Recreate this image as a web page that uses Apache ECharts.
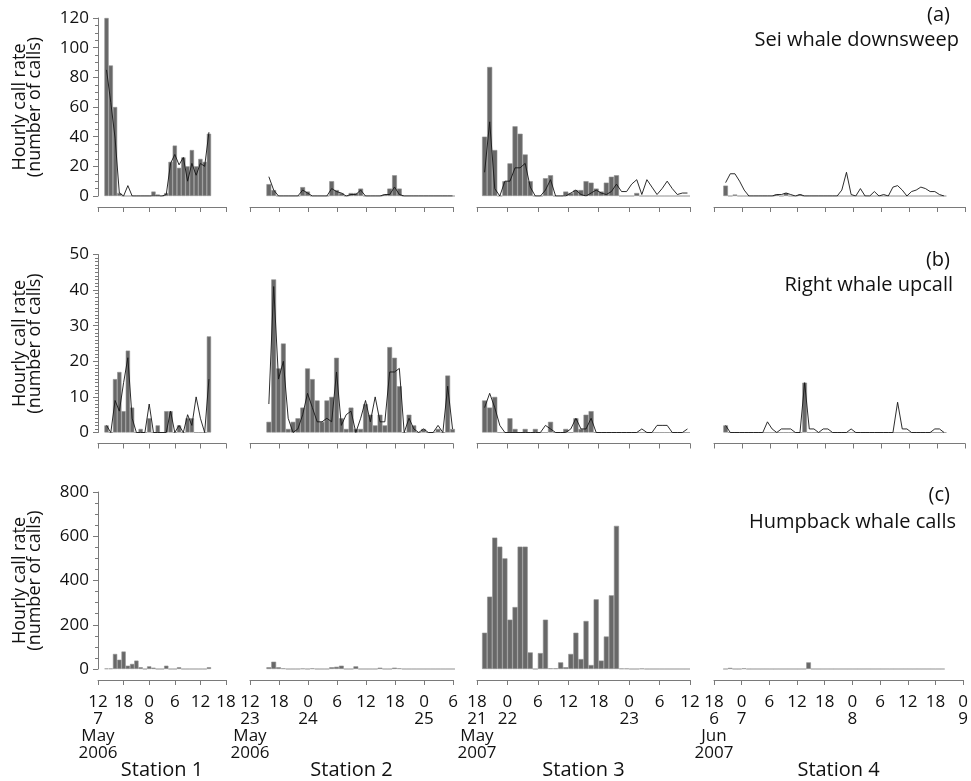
<!DOCTYPE html>
<html><head><meta charset="utf-8">
<script src="https://cdn.jsdelivr.net/npm/echarts@6/dist/echarts.min.js"></script>
<style>html,body{margin:0;padding:0;background:#fff}#c{width:971px;height:781px}</style>
</head><body><div id="c"></div>
<script>
// ---- station time axes ----
const stationNames = ['Station 1', 'Station 2', 'Station 3', 'Station 4'];
const axisStartHour = [12, 12, 18, 18];
const axisStartDay = [7, 23, 21, 6];
const axisMonth = ['May', 'May', 'May', 'Jun'];
const axisYear = [2006, 2006, 2007, 2007];
const axisSpanHours = [30, 42, 42, 54];
const dataStartHour = [1.5, 3.4, 1, 2];

// ---- rows ----
const rowTags = ['(a)', '(b)', '(c)'];
const rowNames = ['Sei whale downsweep', 'Right whale upcall', 'Humpback whale calls'];
const yMax = [120, 50, 800];
const yInterval = [20, 10, 200];
const yMinorSplit = [4, 10, 4];

// ---- Sei whale downsweep (bars = hourly calls, line = second estimate) ----
const sei1Bars = [120, 88, 60, 2, 0, 0, 0, 0, 0, 0, 0, 3, 1, 0, 2, 23, 34, 19, 26, 20, 31, 20, 25, 23, 42];
const sei1Line = [85, 63, 39, 2, 0, 7, 0, 0, 0, 0, 0, 0, 0, 0, 1, 22, 28, 21, 26, 10, 22, 14, 22, 20, 43];
const sei2Bars = [8, 4, 0, 0, 0, 0, 0, 6, 3, 0, 0, 0, 0, 10, 4, 2, 0, 2, 2, 5, 0, 0, 0, 0, 1, 5, 14, 5, 0, 0, 0, 0, 0, 0, 0, 0, 0, 0, 0];
const sei2Line = [13, 4, 0, 0, 0, 0, 0, 4, 2, 0, 0, 0, 0, 5, 3, 2, 0, 1, 1, 4, 0, 0, 0, 0, 1, 1, 6, 1, 0, 0, 0, 0, 0, 0, 0, 0, 0, 0, 0];
const sei3Bars = [40, 87, 31, 0, 10, 22, 47, 42, 28, 10, 0, 0, 12, 14, 0, 0, 3, 2, 4, 4, 10, 9, 5, 3, 9, 13, 14, 0, 0, 0, 2, 0, 0, 0, 0, 0, 0, 0, 0, 0, 0];
const sei3Line = [16, 50, 5, 0, 10, 10, 19, 19, 22, 6, 0, 0, 4, 11, 0, 0, 0, 2, 4, 1, 0, 2, 4, 2, 1, 3, 8, 3, 3, 8, 11, 1, 11, 6, 1, 5, 10, 5, 1, 2, 2];
const sei4Bars = [7, 0, 1, 0, 0, 0, 0, 0, 0, 0, 0, 1, 0, 2, 0, 0, 1, 0, 0, 0, 0, 0, 0, 0, 0, 0, 0, 0, 0, 0, 0, 0, 0, 0, 0, 0, 0, 0, 0, 0, 0, 0, 0, 0, 0, 0, 0, 0];
const sei4Line = [9, 15, 15, 10, 4, 0, 0, 0, 0, 0, 0, 1, 1, 2, 1, 0, 1, 0, 0, 0, 0, 0, 0, 0, 0, 4, 16, 1, 0, 5, 0, 0, 3, 0, 1, 0, 6, 7, 4, 0, 3, 4, 6, 5, 3, 3, 1, 0];

// ---- Right whale upcall ----
const right1Bars = [2, 0, 15, 17, 6, 23, 7, 0, 1, 0, 4, 0, 2, 0, 6, 6, 0, 2, 0, 4, 4, 0, 0, 0, 27];
const right1Line = [2, 0, 9, 6, 14, 21, 4, 0, 0, 0, 8, 0, 0, 0, 0, 6, 0, 2, 0, 5, 2, 10, 4, 0, 15];
const right2Bars = [3, 43, 18, 25, 1, 3, 4, 7, 18, 15, 9, 3, 9, 10, 21, 4, 1, 7, 1, 1, 8, 5, 2, 5, 2, 24, 21, 13, 0, 5, 2, 0, 1, 0, 0, 1, 0, 16, 1];
const right2Line = [8, 41, 15, 20, 4, 0, 1, 5, 11, 7, 3, 3, 4, 3, 17, 2, 5, 6, 0, 4, 9, 3, 10, 3, 3, 17, 17, 18, 0, 4, 1, 0, 1, 0, 0, 2, 0, 13, 1];
const right3Bars = [9, 7, 10, 0, 0, 4, 1, 0, 1, 0, 1, 0, 0, 3, 0, 0, 1, 0, 4, 1, 5, 6, 0, 0, 0, 0, 0, 0, 0, 0, 0, 0, 0, 0, 0, 0, 0, 0, 0, 0, 0];
const right3Line = [7, 11, 7, 2, 0, 0, 0, 0, 0, 0, 0, 0, 2, 1, 0, 0, 0, 1, 4, 1, 1, 4, 0, 0, 0, 0, 0, 0, 0, 0, 0, 1, 0, 0, 2, 2, 2, 0, 0, 0, 1];
const right4Bars = [2, 0, 0, 0, 0, 0, 0, 0, 0, 0, 0, 0, 0, 0, 0, 0, 0, 14, 0, 0, 0, 0, 0, 0, 0, 0, 0, 0, 0, 0, 0, 0, 0, 0, 0, 0, 0, 0, 0, 0, 0, 0, 0, 0, 0, 0, 0, 0];
const right4Line = [2, 0, 0, 0, 0, 0, 0, 0, 0, 3, 1, 0, 1, 1, 1, 0, 0, 14, 1, 1, 0, 1, 1, 0, 0, 0, 0, 1, 0, 0, 0, 0, 0, 0, 0, 0, 0, 8.5, 1, 1, 0, 0, 0, 0, 0, 1, 1, 0];

// ---- Humpback whale calls ----
const hump1Bars = [2, 2, 68, 42, 79, 15, 23, 38, 8, 0, 12, 6, 0, 0, 15, 0, 0, 8, 0, 0, 0, 0, 0, 0, 8];
const hump2Bars = [8, 33, 8, 3, 0, 0, 0, 2, 0, 3, 0, 0, 0, 8, 10, 15, 0, 0, 12, 0, 0, 0, 0, 6, 0, 0, 6, 3, 0, 0, 0, 0, 0, 0, 0, 0, 0, 0, 0];
const hump3Bars = [164, 327, 594, 553, 500, 223, 280, 553, 553, 75, 0, 72, 223, 3, 3, 30, 8, 68, 164, 45, 217, 18, 315, 38, 147, 333, 647, 2, 2, 0, 0, 2, 0, 0, 0, 0, 0, 0, 0, 0, 0];
const hump4Bars = [0, 5, 0, 0, 3, 0, 0, 0, 0, 0, 0, 0, 0, 0, 0, 0, 0, 0, 30, 0, 0, 0, 0, 0, 0, 0, 0, 0, 0, 0, 0, 0, 0, 0, 0, 0, 0, 0, 0, 0, 0, 0, 0, 0, 0, 0, 0, 0];

const barSets = [
  [sei1Bars, sei2Bars, sei3Bars, sei4Bars],
  [right1Bars, right2Bars, right3Bars, right4Bars],
  [hump1Bars, hump2Bars, hump3Bars, hump4Bars]
];
const lineSets = [
  [sei1Line, sei2Line, sei3Line, sei4Line],
  [right1Line, right2Line, right3Line, right4Line],
  null
];

// ---- layout ----
const FONT = '"Open Sans", "Noto Sans", sans-serif';
const gridLeft = [98, 250, 477, 714];
const gridWidth = [128, 203, 213, 251];
const gridTop = [18, 254.5, 492];
const gridHeight = 178;
const AXIS = '#7a7a7a';

const grids = [], xAxes = [], yAxes = [], series = [], titles = [];
const extraXAxes = [];

function tickFormatter(s) {
  return function (v) {
    const t = axisStartHour[s] + Math.round(v);
    const h = t % 24;
    const d = axisStartDay[s] + Math.floor(t / 24);
    if (Math.round(v) === 0) return h + '\n' + d;
    if (h === 0) return '0\n' + d;
    return String(h);
  };
}
function monthFormatter(s) {
  return function (v) {
    return Math.round(v) === 0 ? axisMonth[s] + '\n' + axisYear[s] : '';
  };
}

for (let r = 0; r < 3; r++) {
  for (let s = 0; s < 4; s++) {
    const gi = r * 4 + s;
    grids.push({ left: gridLeft[s], top: gridTop[r], width: gridWidth[s], height: gridHeight, containLabel: false });
    xAxes.push({
      gridIndex: gi, type: 'value', min: 0, max: axisSpanHours[s], interval: 6, offset: 11,
      axisLine: { show: true, onZero: false, lineStyle: { color: AXIS, width: 1 } },
      axisTick: { show: true, length: 5, lineStyle: { color: AXIS } },
      splitLine: { show: false },
      axisLabel: { show: r === 2, showMinLabel: true, showMaxLabel: true, hideOverlap: false,
        formatter: tickFormatter(s), color: '#111', fontSize: 17, lineHeight: 17, margin: 14, fontFamily: FONT },
      name: r === 2 ? stationNames[s] : '', nameLocation: 'middle', nameGap: 80, nameMoveOverlap: false,
      nameTextStyle: { fontSize: 20, color: '#111', fontFamily: FONT }
    });
    if (r === 2) {
      extraXAxes.push({
        gridIndex: gi, type: 'value', min: 0, max: axisSpanHours[s], interval: 6, offset: 11, position: 'bottom',
        axisLine: { show: false, onZero: false }, axisTick: { show: false }, splitLine: { show: false },
        axisLabel: { show: true, showMinLabel: true, showMaxLabel: false, hideOverlap: false,
          formatter: monthFormatter(s), color: '#111', fontSize: 17, lineHeight: 17, margin: 48, fontFamily: FONT }
      });
    }
    yAxes.push({
      gridIndex: gi, type: 'value', min: 0, max: yMax[r], interval: yInterval[r], show: s === 0,
      axisLine: { show: true, onZero: false, lineStyle: { color: AXIS, width: 1 } },
      axisTick: { show: true, length: 5, lineStyle: { color: AXIS } },
      minorTick: { show: true, splitNumber: yMinorSplit[r], length: 3, lineStyle: { color: AXIS } },
      splitLine: { show: false }, minorSplitLine: { show: false },
      axisLabel: { color: '#111', fontSize: 17, margin: 9, fontFamily: FONT, showMinLabel: true, showMaxLabel: true },
      name: s === 0 ? 'Hourly call rate\n(number of calls)' : '', nameLocation: 'middle', nameRotate: 90, nameGap: 56,
      nameMoveOverlap: false,
      nameTextStyle: { fontSize: 18, lineHeight: 15, color: '#111', fontFamily: FONT }
    });
    const pxPerHour = gridWidth[s] / axisSpanHours[s];
    series.push({
      type: 'bar', xAxisIndex: gi, yAxisIndex: gi, silent: true, clip: false,
      barWidth: pxPerHour,
      data: barSets[r][s].map((v, k) => [dataStartHour[s] + k + 0.5, v]),
      itemStyle: { color: '#686868', borderColor: '#909090', borderWidth: 0.6 }
    });
    if (lineSets[r]) {
      series.push({
        type: 'line', xAxisIndex: gi, yAxisIndex: gi, silent: true, symbol: 'none', z: 3,
        data: lineSets[r][s].map((v, k) => [dataStartHour[s] + k + 0.5, v]),
        lineStyle: { color: '#151515', width: 0.9 }
      });
    }
  }
}

const tagTop = [5, 250, 485];
const nameTop = [30, 275, 512];
const tagRight = [21, 21, 21];
const nameRight = [12, 18, 15];
for (let r = 0; r < 3; r++) {
  titles.push({ text: rowTags[r], right: tagRight[r], top: tagTop[r], padding: 0,
    textStyle: { fontSize: 20, fontWeight: 'normal', color: '#111', fontFamily: FONT } });
  titles.push({ text: rowNames[r], right: nameRight[r], top: nameTop[r], padding: 0,
    textStyle: { fontSize: 20, fontWeight: 'normal', color: '#111', fontFamily: FONT } });
}

const chart = echarts.init(document.getElementById('c'), null, { renderer: 'canvas' });
chart.setOption({
  animation: false,
  backgroundColor: '#fff',
  textStyle: { fontFamily: FONT },
  title: titles,
  grid: grids,
  xAxis: xAxes.concat(extraXAxes),
  yAxis: yAxes,
  series: series
});
</script>
</body></html>
